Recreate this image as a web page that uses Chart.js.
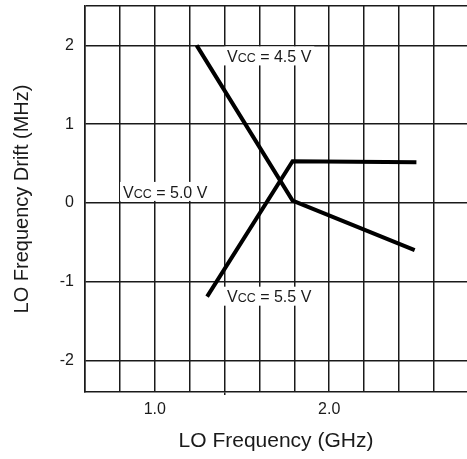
<!DOCTYPE html>
<html>
<head>
<meta charset="utf-8">
<script src="https://cdn.jsdelivr.net/npm/chart.js@4/dist/chart.umd.min.js"></script>
<style>
  html, body { margin: 0; padding: 0; background: #fff; }
  #wrap { width: 467px; height: 459px; position: relative; }
</style>
</head>
<body>
<div id="wrap"><canvas id="c" width="467" height="459"></canvas></div>
<script>
// ---- data ----
const vcc45X = [1.24, 1.79, 2.49];
const vcc45Y = [2.0, 0.03, -0.6];
const vcc55X = [1.30, 1.79, 2.50];
const vcc55Y = [-1.19, 0.53, 0.515];
const xTickValues = [0.6, 0.8, 1.0, 1.2, 1.4, 1.6, 1.8, 2.0, 2.2, 2.4, 2.6];
const xTickLabels = ['', '', '1.0', '', '', '', '', '2.0', '', '', ''];
const yTickValues = [-2, -1, 0, 1, 2, 2.5];
const yTickLabels = ['-2', '-1', '0', '1', '2', ''];
const labelVoltages = ['4.5', '5.0', '5.5'];
const labelAnchorX = [1.414, 0.818, 1.414];
const labelAnchorY = [1.86, 0.14, -1.19];

const FONT = "'Liberation Sans', Arial, sans-serif";
const INK = '#1a1a1a';

const toPts = (xs, ys) => xs.map((x, i) => ({x: x, y: ys[i]}));

const labelPlugin = {
  id: 'vccLabels',
  afterDatasetsDraw(chart) {
    const ctx = chart.ctx;
    const xs = chart.scales.x, ys = chart.scales.y;
    ctx.save();
    labelVoltages.forEach((v, i) => {
      const px = xs.getPixelForValue(labelAnchorX[i]);
      const py = ys.getPixelForValue(labelAnchorY[i]);
      const big = '16px ' + FONT, small = '12.5px ' + FONT;
      ctx.font = big; const wV = ctx.measureText('V').width;
      ctx.font = small; const wC = ctx.measureText('CC').width;
      ctx.font = big; const rest = ' = ' + v + ' V'; const wR = ctx.measureText(rest).width;
      const total = wV + wC + wR;
      ctx.fillStyle = '#fff';
      ctx.fillRect(px - 3, py - 10, total + 6, 19);
      ctx.fillStyle = INK;
      ctx.textBaseline = 'alphabetic';
      ctx.textAlign = 'left';
      const base = py + 5.8;
      ctx.font = big; ctx.fillText('V', px, base);
      ctx.font = small; ctx.fillText('CC', px + wV, base);
      ctx.font = big; ctx.fillText(rest, px + wV + wC, base);
    });
    ctx.restore();
  }
};

const zeroPad = (s) => { s.paddingTop = 0; s.paddingBottom = 0; s.paddingLeft = 0; s.paddingRight = 0; };

new Chart(document.getElementById('c'), {
  type: 'line',
  data: {
    datasets: [
      { label: 'VCC = 4.5 V', data: toPts(vcc45X, vcc45Y), borderColor: '#000', borderWidth: 4, pointRadius: 0, fill: false, tension: 0 },
      { label: 'VCC = 5.5 V', data: toPts(vcc55X, vcc55Y), borderColor: '#000', borderWidth: 4, pointRadius: 0, fill: false, tension: 0 }
    ]
  },
  options: {
    responsive: false,
    animation: false,
    devicePixelRatio: 1,
    layout: { padding: { top: 6, right: 0, left: 0, bottom: 0 } },
    plugins: { legend: { display: false }, tooltip: { enabled: false } },
    scales: {
      x: {
        type: 'linear',
        min: 0.6, max: 2.79,
        afterBuildTicks: (s) => { s.ticks = xTickValues.map(v => ({value: v})); },
        afterFit: (s) => { s.height = 67; zeroPad(s); },
        grid: {
          color: INK, lineWidth: 1.5, drawTicks: true, tickLength: 3,
          tickColor: (c) => (c.tick && Math.abs(c.tick.value - 1.4) < 1e-6) ? INK : 'rgba(0,0,0,0)'
        },
        border: { display: true, color: INK, width: 1.5 },
        ticks: {
          autoSkip: false, maxRotation: 0, padding: 5,
          color: INK, font: { family: FONT, size: 16 },
          callback: (v, i) => xTickLabels[i]
        },
        title: { display: true, text: 'LO Frequency (GHz)', color: INK, font: { family: FONT, size: 21 }, padding: { top: 0, bottom: 5 } }
      },
      y: {
        type: 'linear',
        min: -2.4, max: 2.5,
        afterBuildTicks: (s) => { s.ticks = yTickValues.map(v => ({value: v})); },
        afterFit: (s) => { s.width = 85; zeroPad(s); },
        grid: { color: INK, lineWidth: 1.5, drawTicks: false },
        border: { display: true, color: INK, width: 1.5 },
        ticks: {
          autoSkip: false, padding: 11,
          color: INK, font: { family: FONT, size: 16 },
          callback: (v, i) => yTickLabels[i]
        },
        title: { display: true, text: 'LO Frequency Drift (MHz)', color: INK, font: { family: FONT, size: 20 }, padding: { top: 10, bottom: 0 } }
      }
    }
  },
  plugins: [labelPlugin]
});
</script>
</body>
</html>
